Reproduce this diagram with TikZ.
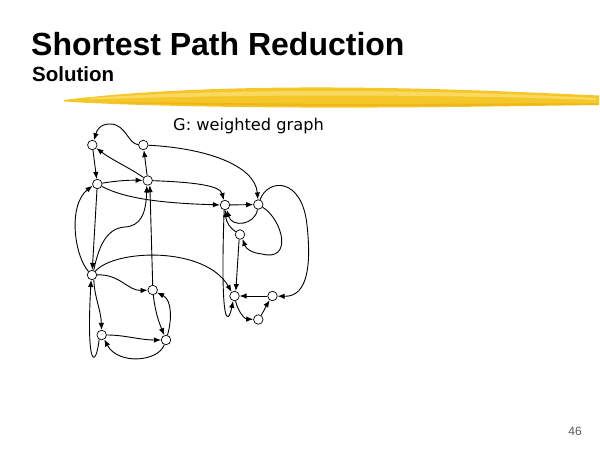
\documentclass[tikz,border=0pt]{standalone}
\usepackage{fontspec}
\setmainfont{Liberation Sans}
\newfontfamily\labelfont{DejaVu Sans}
\usetikzlibrary{arrows.meta}
\definecolor{brushmain}{RGB}{245,198,40}
\definecolor{brushlight}{RGB}{251,222,110}
\definecolor{brushdark}{RGB}{234,172,12}
\definecolor{pagenum}{RGB}{90,90,90}
\begin{document}
\begin{tikzpicture}[x=1pt,y=-1pt,
  vtx/.style={circle,draw,fill=white,line width=0.7pt,minimum size=9.5pt,inner sep=0pt},
  edge/.style={line width=0.9pt,-{Latex[length=7pt,width=5.5pt]}},
  txt/.style={inner sep=0pt,anchor=base west}]
\useasboundingbox (0,0) rectangle (600,450);
\fill[white] (0,0) rectangle (600,450);

% titles
\node[txt,font=\bfseries\fontsize{32}{32}\selectfont] (title) at (31,55.5) {Shortest Path Reduction};
\node[txt,font=\bfseries\fontsize{20.5}{20.5}\selectfont] (sub) at (32,81.5) {Solution};
\node[txt,font=\labelfont\fontsize{16.2}{16.2}\selectfont] (glabel) at (173,130.5) {G: weighted graph};
\node[inner sep=0pt,anchor=base east,font=\fontsize{12}{12}\selectfont,text=pagenum] (pnum) at (582,435) {46};

% brush stroke
\fill[brushmain] (64,100) .. controls (120,93) and (200,88) .. (300,87.5) .. controls (420,87) and (520,92) .. (599,95.5) -- (599,105) .. controls (520,106) and (420,108) .. (300,107.5) .. controls (200,107) and (120,105) .. (64,101.5) -- cycle;
\fill[brushlight,opacity=0.8] (90,98) .. controls (160,93) and (240,91) .. (330,91) .. controls (430,91) and (520,94) .. (596,98) -- (596,100) .. controls (520,97) and (430,95.5) .. (330,95.5) .. controls (240,95.5) and (160,97) .. (90,99.5) -- cycle;
\fill[brushdark,opacity=0.6] (120,102.5) .. controls (200,102) and (280,104) .. (360,104) .. controls (450,104) and (530,103) .. (598,103.5) -- (598,105) .. controls (530,105) and (450,106.5) .. (360,106) .. controls (280,106) and (200,105) .. (120,103.3) -- cycle;

% vertices
\node[vtx] (A) at (92.3,145) {};
\node[vtx] (B) at (143.3,145) {};
\node[vtx] (C) at (97.3,184) {};
\node[vtx] (D) at (147.7,180.5) {};
\node[vtx] (E) at (225,205) {};
\node[vtx] (F) at (258.3,204.5) {};
\node[vtx] (G) at (240,234.5) {};
\node[vtx] (H) at (92,275) {};
\node[vtx] (I) at (152.7,290) {};
\node[vtx] (J) at (101.7,335) {};
\node[vtx] (K) at (166,340) {};
\node[vtx] (L) at (234.5,296) {};
\node[vtx] (M) at (272.5,296) {};
\node[vtx] (N) at (258.3,319.5) {};

% edges, top cluster
\draw[edge] (B) .. controls (128,144) and (126,124) .. (110,124) .. controls (100,124) and (97,130) .. (A.70);
\draw[edge] (A) -- (C);
\draw[edge] (D) .. controls (130,168) and (112,160) .. (A);
\draw[edge] (D) -- (B);
\draw[edge] (C) .. controls (115,181) and (128,180) .. (D);
\draw[edge] (B) .. controls (205,148) and (255,165) .. (F);
\draw[edge] (D) .. controls (190,182) and (220,185) .. (E);
\draw[edge] (C) .. controls (120,196) and (150,203) .. (E);
\draw[edge] (E) -- (F);
\draw[edge] (F) .. controls (255,225) and (232,228) .. (E.-70);
\draw[edge] (G) .. controls (230,228) and (226,222) .. (E.-85);
\draw[edge] (F) .. controls (283,220) and (293,262) .. (262,254) .. controls (252,253) and (246,249) .. (G.-60);
\draw[edge] (F) .. controls (268,178) and (302,177) .. (307,225) .. controls (311,262) and (309,297) .. (M);
\draw[edge] (M) -- (L);
\draw[edge] (L) .. controls (238,312) and (245,319) .. (N);
\draw[edge] (N) .. controls (264,311) and (266,306) .. (M);
\draw[edge] (E.-100) .. controls (220,330) and (228,325) .. (L.-105);
\draw[edge] (G.-100) -- (L.75);
\draw[edge] (H) .. controls (115,249) and (205,246) .. (L.125);

% left cluster
\draw[edge] (C) -- (H);
\draw[edge] (H.135) .. controls (74,255) and (68,205) .. (C.200);
\draw[edge] (H.70) .. controls (98,250) and (105,228) .. (125,227) .. controls (140,226) and (146,215) .. (D.-100);
\draw[edge] (I.north) -- (D.-65);
\draw[edge] (H.-70) .. controls (95,300) and (101,310) .. (J);
\draw[edge] (J.-120) .. controls (96,368) and (86,370) .. (H.-100);
\draw[edge] (H) .. controls (120,274) and (128,291) .. (I);
\draw[edge] (I) .. controls (155,310) and (158,320) .. (K.110);
\draw[edge] (K) .. controls (172,320) and (172,300) .. (I.-30);
\draw[edge] (J) .. controls (125,335) and (140,340) .. (K);
\draw[edge] (K) .. controls (158,362) and (118,365) .. (J.-60);
\end{tikzpicture}
\end{document}
